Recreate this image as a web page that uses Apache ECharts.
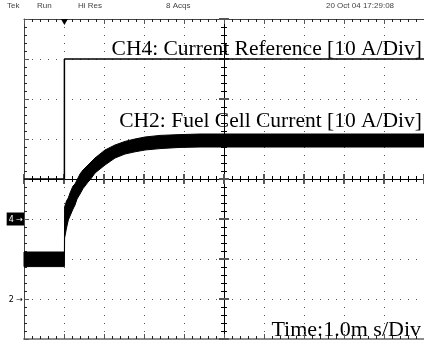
<!DOCTYPE html>
<html>
<head>
<meta charset="utf-8">
<script src="https://cdn.jsdelivr.net/npm/echarts@6/dist/echarts.min.js"></script>
<style>
  html, body { margin: 0; padding: 0; background: #fff; }
  #scope { width: 424px; height: 343px; }
</style>
</head>
<body>
<div id="scope"></div>
<script>
// time axis in divisions (1.0 ms/div), centre of screen = 0
const xDiv = [-5, -3.99, -3.985, -3.9375, -3.8925, -3.85, -3.775, -3.725, -3.675, -3.6, -3.525, -3.475,
  -3.4, -3.35, -3.225, -3.1, -2.975, -2.725, -2.475, -2.225, -1.975, -1.6, -1.1, -0.6, 0.4, 5];
// CH2 fuel cell current, upper / lower edge of the ripple band (divisions)
const ch2Upper = [-1.825, -1.825, -0.7, -0.55, -0.475, -0.35, -0.175, -0.125, -0.025, 0.125, 0.225, 0.275,
  0.35, 0.4, 0.525, 0.625, 0.725, 0.85, 0.94, 1.0, 1.05, 1.09, 1.11, 1.125, 1.125, 1.125];
const ch2Lower = [-2.19, -2.19, -1.475, -1.225, -1.025, -0.925, -0.75, -0.65, -0.5, -0.375, -0.24, -0.175,
  -0.075, -0.025, 0.15, 0.25, 0.35, 0.525, 0.625, 0.68, 0.725, 0.76, 0.79, 0.8, 0.8, 0.8];
// CH4 current reference step
const ch4X = [-5, -3.99, -3.99, 5];
const ch4Y = [0, 0, 3, 3];
// channel ground markers on the left edge
const markerLevels = [-1, -3];
const markerNames = ["4", "2"];
const headerText = ["Tek", "Run", "Hi Res", "8 Acqs", "20 Oct 04 17:29:08"];

const chart = echarts.init(document.getElementById("scope"), null, { renderer: "canvas" });

const dotted = { color: "#555", width: 1, type: [1, 7] };

function centreAxis(pos, dim) {
  return {
    type: "value",
    position: pos,
    min: dim === "x" ? -5 : -4,
    max: dim === "x" ? 5 : 4,
    interval: 1,
    axisLine: { show: true, onZero: true, onZeroAxisIndex: 0, lineStyle: { color: "#000", width: 1 } },
    axisTick: { show: true, inside: false, length: 5, lineStyle: { color: "#555", width: 2 } },
    minorTick: { show: true, splitNumber: 5, length: 3, lineStyle: { color: "#000", width: 1 } },
    axisLabel: { show: false },
    splitLine: { show: false }
  };
}

function borderAxis(pos, dim, color, width) {
  return {
    type: "value",
    position: pos,
    min: dim === "x" ? -5 : -4,
    max: dim === "x" ? 5 : 4,
    interval: 1,
    axisLine: { show: true, onZero: false, lineStyle: { color: color, width: width } },
    axisTick: { show: true, inside: true, length: 5, lineStyle: { color: "#555", width: 1 } },
    minorTick: { show: true, splitNumber: 5, length: 3, lineStyle: { color: "#222", width: 1 } },
    axisLabel: { show: false },
    splitLine: { show: false }
  };
}

const xCentre = centreAxis("bottom", "x");
xCentre.splitLine = { show: true, lineStyle: dotted };
const yCentre = centreAxis("left", "y");
yCentre.splitLine = { show: true, lineStyle: dotted };

const yLeft = borderAxis("left", "y", "#444", 1);
yLeft.axisLabel = {
  show: true,
  margin: 0,
  formatter: function (v) {
    const i = markerLevels.indexOf(v);
    if (i < 0) return "";
    return i === 0 ? "{box|" + markerNames[i] + " →}" : "{plain|" + markerNames[i] + " →}";
  },
  rich: {
    box: { backgroundColor: "#000", color: "#fff", fontSize: 8, fontFamily: "DejaVu Sans", padding: [3, 1, 2, 2] },
    plain: { color: "#000", fontSize: 8, fontFamily: "DejaVu Sans", padding: [1, 1, 0, 0] }
  }
};

const headerX = [7, 37, 78, 166, 326];

const option = {
  animation: false,
  backgroundColor: "#fff",
  grid: { left: 24, top: 19, width: 400, height: 320, outerBoundsMode: "none" },
  xAxis: [
    xCentre,
    centreAxis("top", "x"),
    borderAxis("bottom", "x", "#8c8c8c", 2),
    borderAxis("top", "x", "#444", 1)
  ],
  yAxis: [
    yCentre,
    centreAxis("right", "y"),
    yLeft
  ],
  graphic: headerText.map(function (t, i) {
    return {
      type: "text",
      x: headerX[i],
      y: 6,
      style: { text: t, fill: "#444", font: "8px 'Liberation Sans'", verticalAlign: "middle" }
    };
  }).concat([
    {
      type: "text", x: 422, y: 49,
      style: { text: "CH4: Current Reference [10 A/Div]", fill: "#000", font: "21.5px 'Liberation Serif'", align: "right", verticalAlign: "middle" }
    },
    {
      type: "text", x: 422, y: 121,
      style: { text: "CH2: Fuel Cell Current [10 A/Div]", fill: "#000", font: "21.5px 'Liberation Serif'", align: "right", verticalAlign: "middle" }
    },
    {
      type: "text", x: 421, y: 330,
      style: { text: "Time:1.0m s/Div", fill: "#000", font: "22px 'Liberation Serif'", align: "right", verticalAlign: "middle" }
    }
  ]),
  series: [
    {
      name: "CH2",
      type: "custom",
      coordinateSystem: "cartesian2d",
      data: [[xDiv[0], ch2Upper[0]]],
      silent: true,
      z: 3,
      renderItem: function (params, api) {
        const pts = [];
        for (let i = 0; i < xDiv.length; i++) pts.push(api.coord([xDiv[i], ch2Upper[i]]));
        for (let i = xDiv.length - 1; i >= 0; i--) pts.push(api.coord([xDiv[i], ch2Lower[i]]));
        return {
          type: "polygon",
          shape: { points: pts },
          style: { fill: "#000", stroke: "#000", lineWidth: 1 }
        };
      }
    },
    {
      name: "CH4",
      type: "line",
      data: ch4X.map(function (x, i) { return [x, ch4Y[i]]; }),
      showSymbol: false,
      symbol: "none",
      z: 3,
      lineStyle: { color: "#000", width: 1.5 },
      markPoint: {
        symbol: "triangle",
        symbolRotate: 180,
        symbolSize: [7, 6],
        symbolOffset: [0, 3],
        itemStyle: { color: "#000" },
        label: { show: false },
        data: [{ coord: [ch4X[1], 4] }]
      }
    }
  ]
};

chart.setOption(option);
</script>
</body>
</html>
